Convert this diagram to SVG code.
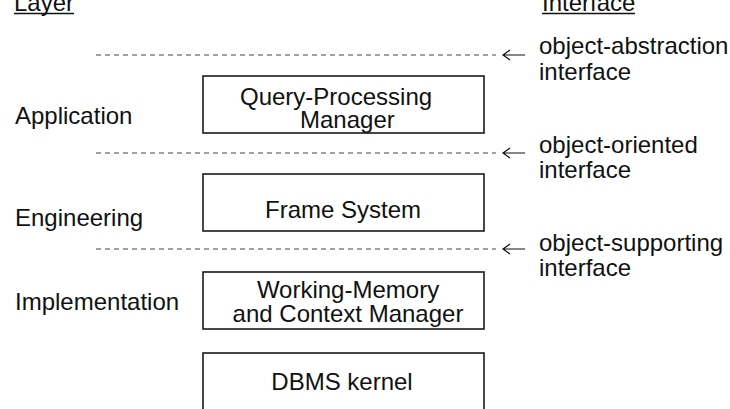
<svg xmlns="http://www.w3.org/2000/svg" width="730" height="409" viewBox="0 0 730 409">
  <style>
    text { font-family: "Liberation Sans", Arial, sans-serif; font-size: 24px; fill: #111; }
    .mid { text-anchor: middle; }
    .box { fill: #fff; stroke: #1a1a1a; stroke-width: 1.6; }
    .layer-sep { stroke: #444; stroke-width: 1; stroke-dasharray: 5 4; fill: none; }
    .arrow { stroke: #111; stroke-width: 1.2; fill: none; }
    .rule { stroke: #111; stroke-width: 1.3; }
  </style>
  <rect width="730" height="409" fill="#fff"/>

  <!-- column headings -->
  <g id="heading-layer">
    <text x="14" y="11">Layer</text>
    <line class="rule" x1="14" y1="13.5" x2="74" y2="13.5"/>
  </g>
  <g id="heading-interface">
    <text x="542" y="11">Interface</text>
    <line class="rule" x1="542" y1="13.5" x2="635" y2="13.5"/>
  </g>

  <!-- layer names -->
  <g id="layer-application"><text x="15" y="124">Application</text></g>
  <g id="layer-engineering"><text x="15" y="226">Engineering</text></g>
  <g id="layer-implementation"><text x="15" y="310">Implementation</text></g>

  <!-- components -->
  <g id="query-processing-manager">
    <rect class="box" x="203" y="76" width="281" height="57"/>
    <text x="240" y="105">Query-Processing</text>
    <text x="300" y="128">Manager</text>
  </g>
  <g id="frame-system">
    <rect class="box" x="203" y="174" width="281" height="57"/>
    <text class="mid" x="343" y="218">Frame System</text>
  </g>
  <g id="working-memory">
    <rect class="box" x="203" y="272" width="281" height="57"/>
    <text class="mid" x="348" y="298">Working-Memory</text>
    <text class="mid" x="348" y="322">and Context Manager</text>
  </g>
  <g id="dbms-kernel">
    <rect class="box" x="203" y="353" width="281" height="70"/>
    <text class="mid" x="342" y="390">DBMS kernel</text>
  </g>

  <!-- interface labels -->
  <g id="iface-abstraction">
    <text x="539" y="54">object-abstraction</text>
    <text x="539" y="80">interface</text>
  </g>
  <g id="iface-oriented">
    <text x="539" y="153">object-oriented</text>
    <text x="539" y="178">interface</text>
  </g>
  <g id="iface-supporting">
    <text x="539" y="251">object-supporting</text>
    <text x="539" y="276">interface</text>
  </g>

  <!-- interface boundaries and pointers -->
  <g id="connectors">
    <line class="layer-sep" x1="96" y1="55" x2="496" y2="55"/>
    <line class="layer-sep" x1="96" y1="153" x2="496" y2="153"/>
    <line class="layer-sep" x1="96" y1="249" x2="496" y2="249"/>
    <path class="arrow" d="M503 55 H525 M510 50 L503 55 L510 60"/>
    <path class="arrow" d="M503 153 H525 M510 148 L503 153 L510 158"/>
    <path class="arrow" d="M503 249 H525 M510 244 L503 249 L510 254"/>
  </g>
</svg>
